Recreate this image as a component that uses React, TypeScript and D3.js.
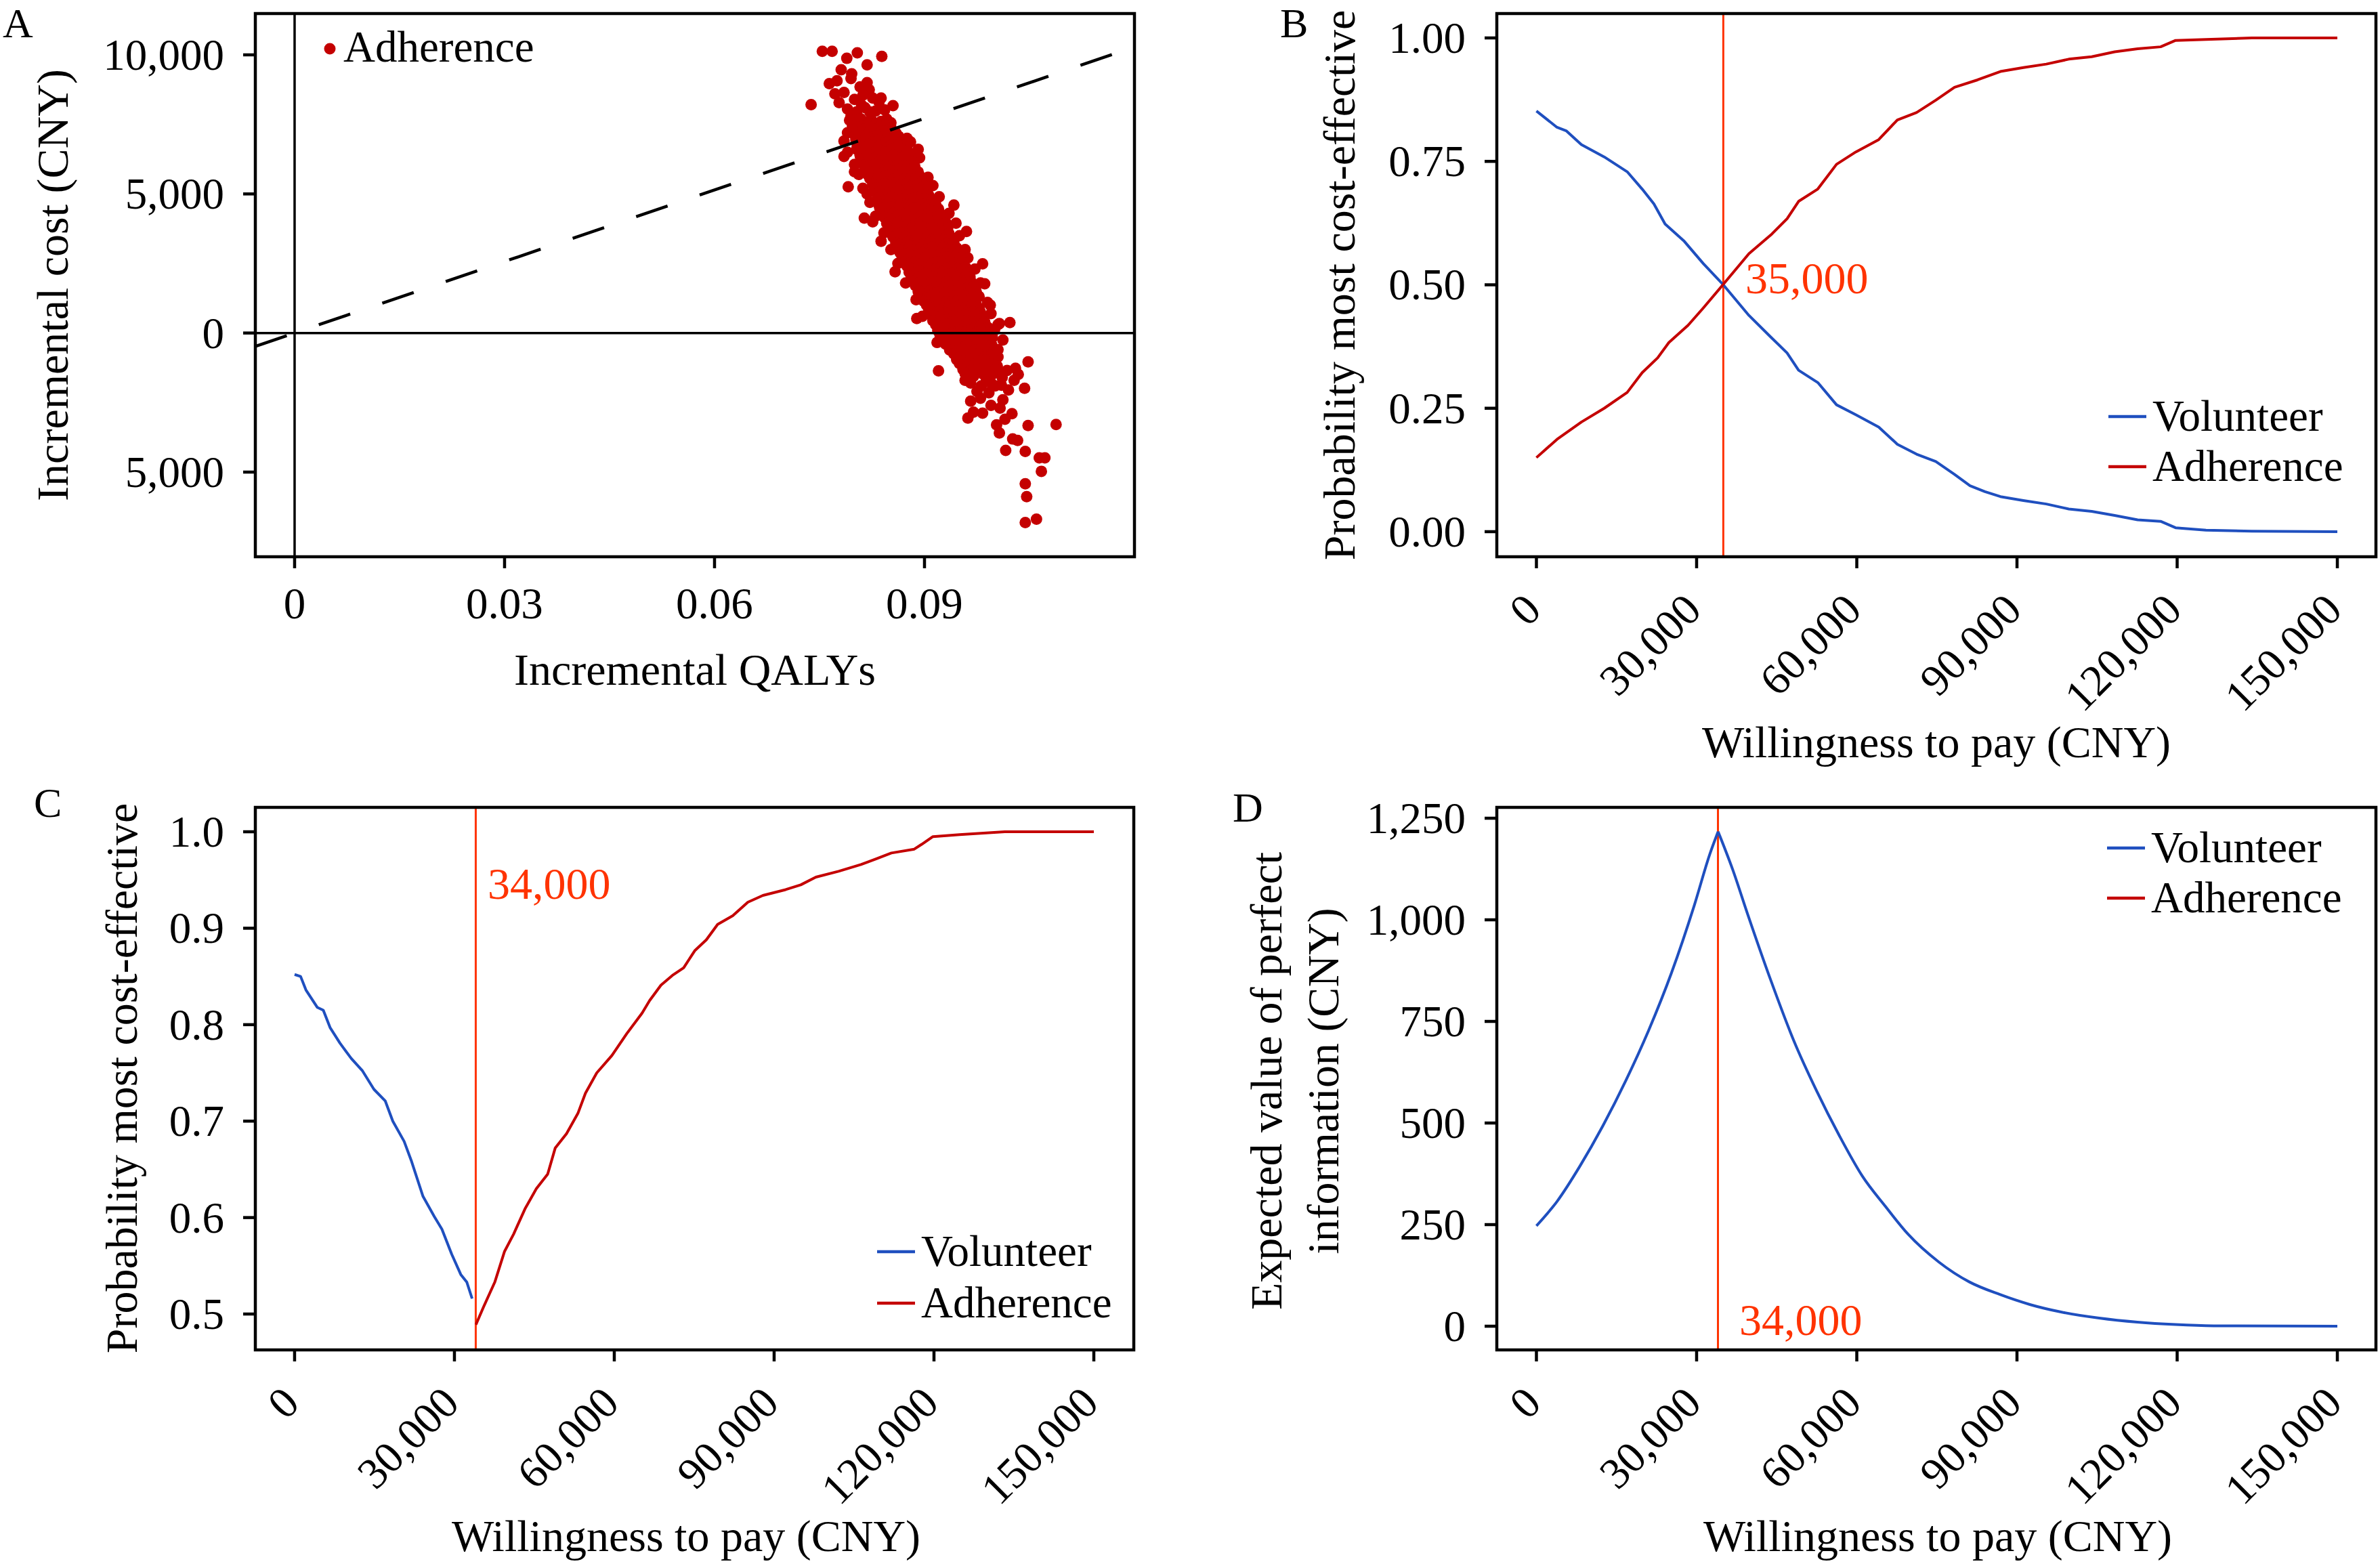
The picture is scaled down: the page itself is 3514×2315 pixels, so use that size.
import React from 'react';
import * as d3 from 'd3';

const FONT = '"Liberation Serif", "Times New Roman", Times, serif';
const RED = '#C40000';
const BLUE = '#1F4FBF';
const ORANGE = '#FF3300';

// ---------- Panel A: cost-effectiveness plane ----------
const aXTicks = [0, 0.03, 0.06, 0.09];
const aXTickLabels = ['0', '0.03', '0.06', '0.09'];
const aYTicks = [10000, 5000, 0, -5000];
const aYTickLabels = ['10,000', '5,000', '0', '5,000'];
const wtpThreshold = 85698;
const psaPoints: [number, number][] = [
  // sparse upper points
  [0.0754, 10125], [0.0768, 10125], [0.0804, 10071], [0.0839, 9946], [0.0789, 9875], [0.0818, 9642],
  [0.0781, 9463], [0.0796, 9320], [0.0764, 8962], [0.0775, 9070], [0.0821, 8748], [0.0835, 8300],
  [0.0855, 8175], [0.0738, 8211], [0.0778, 8283], [0.0790, 8050], [0.0803, 7950], [0.0815, 8100],
  [0.0830, 7980], [0.0843, 8020], [0.0800, 8400], [0.0812, 8550], [0.0826, 8450], [0.0785, 8650],
  [0.0808, 8850], [0.0795, 9150], [0.0818, 9000], [0.0772, 8600], [0.0790, 7200], [0.0785, 6900],
  [0.0795, 7800], [0.0810, 8200], [0.0822, 7950], [0.0838, 8450], [0.0880, 6870], [0.0891, 6600],
  [0.0800, 6060], [0.0806, 5700], [0.0791, 5259], [0.0814, 4132], [0.0942, 4597], [0.0960, 3649],
  [0.0945, 3950], [0.0983, 2487], [0.0986, 1771], [0.0889, 519], [0.1022, 376], [0.1007, 340],
  [0.0918, -340], [0.0920, -1360],
  // ragged edges of the core
  [0.0790, 6500], [0.0785, 6350], [0.0800, 5800], [0.0812, 5200], [0.0818, 5000], [0.0822, 4700],
  [0.0830, 4200], [0.0826, 4000], [0.0842, 3600], [0.0838, 3300], [0.0852, 3000], [0.0862, 2500],
  [0.0858, 2200], [0.0873, 1800], [0.0888, 1200], [0.0897, 600],
  [0.0875, 7000], [0.0893, 6300], [0.0905, 5600], [0.0912, 5300], [0.0921, 4900], [0.0935, 4300],
  [0.0930, 4000], [0.0950, 3500], [0.0958, 3000], [0.0962, 2700], [0.0972, 2300], [0.0980, 1800],
  [0.0994, 1000], [0.1005, 300],
  // dense core
  [0.0793, 7650], [0.0801, 7540], [0.0809, 7700], [0.0816, 7580], [0.0824, 7660], [0.0831, 7520], [0.0838, 7610], [0.0846, 7690], [0.0852, 7560],
  [0.0797, 7440], [0.0805, 7400], [0.0813, 7450], [0.0820, 7390], [0.0828, 7430], [0.0836, 7410], [0.0844, 7460], [0.0852, 7380],
  [0.0797, 7300], [0.0806, 7180], [0.0813, 7330], [0.0821, 7220], [0.0829, 7290], [0.0836, 7170], [0.0843, 7260], [0.0851, 7310], [0.0859, 7200],
  [0.0801, 7090], [0.0809, 7050], [0.0817, 7110], [0.0825, 7040], [0.0833, 7080], [0.0840, 7060], [0.0848, 7100], [0.0856, 7030], [0.0863, 7070],
  [0.0802, 6950], [0.0811, 6840], [0.0819, 6980], [0.0827, 6870], [0.0835, 6930], [0.0842, 6820], [0.0850, 6910], [0.0858, 6960], [0.0866, 6850],
  [0.0804, 6740], [0.0812, 6700], [0.0820, 6760], [0.0828, 6690], [0.0836, 6730], [0.0844, 6710], [0.0852, 6750], [0.0860, 6680], [0.0868, 6720], [0.0875, 6700],
  [0.0803, 6600], [0.0812, 6500], [0.0820, 6620], [0.0828, 6480], [0.0836, 6570], [0.0844, 6510], [0.0852, 6600], [0.0860, 6530], [0.0868, 6590], [0.0878, 6490],
  [0.0808, 6390], [0.0816, 6350], [0.0824, 6410], [0.0832, 6340], [0.0840, 6380], [0.0848, 6360], [0.0856, 6400], [0.0864, 6330], [0.0872, 6370], [0.0880, 6350],
  [0.0809, 6250], [0.0818, 6150], [0.0826, 6270], [0.0834, 6130], [0.0842, 6220], [0.0850, 6160], [0.0858, 6240], [0.0866, 6180], [0.0874, 6230], [0.0884, 6140],
  [0.0813, 6040], [0.0821, 6000], [0.0829, 6060], [0.0837, 5990], [0.0845, 6030], [0.0853, 6010], [0.0861, 6050], [0.0869, 5980], [0.0877, 6020], [0.0886, 6000],
  [0.0816, 5900], [0.0825, 5800], [0.0833, 5920], [0.0841, 5780], [0.0849, 5870], [0.0857, 5810], [0.0865, 5890], [0.0873, 5830], [0.0881, 5880], [0.0891, 5790],
  [0.0819, 5690], [0.0827, 5650], [0.0835, 5710], [0.0843, 5640], [0.0851, 5680], [0.0859, 5660], [0.0867, 5700], [0.0875, 5630], [0.0883, 5670], [0.0893, 5650],
  [0.0822, 5550], [0.0831, 5450], [0.0839, 5570], [0.0847, 5430], [0.0855, 5520], [0.0863, 5460], [0.0871, 5540], [0.0879, 5480], [0.0887, 5530], [0.0897, 5440],
  [0.0826, 5340], [0.0834, 5300], [0.0842, 5360], [0.0850, 5290], [0.0858, 5330], [0.0866, 5310], [0.0874, 5350], [0.0882, 5280], [0.0890, 5320], [0.0900, 5300],
  [0.0829, 5200], [0.0838, 5100], [0.0846, 5220], [0.0854, 5080], [0.0862, 5170], [0.0870, 5110], [0.0878, 5190], [0.0886, 5130], [0.0894, 5180], [0.0903, 5090],
  [0.0832, 4990], [0.0840, 4950], [0.0848, 5010], [0.0856, 4940], [0.0864, 4980], [0.0872, 4960], [0.0880, 5000], [0.0888, 4930], [0.0896, 4970], [0.0906, 4950],
  [0.0835, 4850], [0.0844, 4750], [0.0852, 4870], [0.0860, 4730], [0.0868, 4820], [0.0876, 4760], [0.0884, 4840], [0.0892, 4780], [0.0900, 4830], [0.0910, 4740],
  [0.0834, 4640], [0.0842, 4600], [0.0850, 4660], [0.0858, 4590], [0.0866, 4630], [0.0874, 4610], [0.0882, 4650], [0.0890, 4580], [0.0898, 4620], [0.0906, 4600], [0.0916, 4630],
  [0.0836, 4500], [0.0845, 4400], [0.0853, 4520], [0.0861, 4380], [0.0869, 4470], [0.0877, 4410], [0.0885, 4490], [0.0893, 4430], [0.0901, 4480], [0.0909, 4390], [0.0920, 4460],
  [0.0840, 4290], [0.0848, 4250], [0.0856, 4310], [0.0864, 4240], [0.0872, 4280], [0.0880, 4260], [0.0888, 4300], [0.0896, 4230], [0.0904, 4270], [0.0912, 4250], [0.0923, 4280],
  [0.0843, 4150], [0.0852, 4050], [0.0860, 4170], [0.0868, 4030], [0.0876, 4120], [0.0884, 4060], [0.0892, 4140], [0.0900, 4080], [0.0908, 4130], [0.0916, 4040], [0.0927, 4110],
  [0.0846, 3940], [0.0854, 3900], [0.0862, 3960], [0.0870, 3890], [0.0878, 3930], [0.0886, 3910], [0.0894, 3950], [0.0902, 3880], [0.0910, 3920], [0.0918, 3900], [0.0929, 3930],
  [0.0849, 3800], [0.0858, 3700], [0.0866, 3820], [0.0874, 3680], [0.0882, 3770], [0.0890, 3710], [0.0898, 3790], [0.0906, 3730], [0.0914, 3780], [0.0922, 3690], [0.0933, 3760],
  [0.0852, 3590], [0.0860, 3550], [0.0868, 3610], [0.0876, 3540], [0.0884, 3580], [0.0892, 3560], [0.0900, 3600], [0.0908, 3530], [0.0916, 3570], [0.0924, 3550], [0.0935, 3580],
  [0.0855, 3450], [0.0864, 3350], [0.0872, 3470], [0.0880, 3330], [0.0888, 3420], [0.0896, 3360], [0.0904, 3440], [0.0912, 3380], [0.0920, 3430], [0.0928, 3340], [0.0939, 3410],
  [0.0859, 3240], [0.0867, 3200], [0.0875, 3260], [0.0883, 3190], [0.0891, 3230], [0.0899, 3210], [0.0907, 3250], [0.0915, 3180], [0.0923, 3220], [0.0931, 3200], [0.0942, 3230],
  [0.0862, 3100], [0.0871, 3000], [0.0879, 3120], [0.0887, 2980], [0.0895, 3070], [0.0903, 3010], [0.0911, 3090], [0.0919, 3030], [0.0927, 3080], [0.0935, 2990], [0.0946, 3060],
  [0.0865, 2890], [0.0873, 2850], [0.0881, 2910], [0.0889, 2840], [0.0897, 2880], [0.0905, 2860], [0.0913, 2900], [0.0921, 2830], [0.0929, 2870], [0.0937, 2850], [0.0948, 2880],
  [0.0868, 2750], [0.0877, 2650], [0.0885, 2770], [0.0893, 2630], [0.0901, 2720], [0.0909, 2660], [0.0917, 2740], [0.0925, 2680], [0.0933, 2730], [0.0941, 2640], [0.0952, 2710],
  [0.0871, 2540], [0.0879, 2500], [0.0887, 2560], [0.0895, 2490], [0.0903, 2530], [0.0911, 2510], [0.0919, 2550], [0.0927, 2480], [0.0935, 2520], [0.0943, 2500], [0.0954, 2530],
  [0.0875, 2400], [0.0884, 2300], [0.0892, 2420], [0.0900, 2280], [0.0908, 2370], [0.0916, 2310], [0.0924, 2390], [0.0932, 2330], [0.0940, 2380], [0.0948, 2290], [0.0959, 2360],
  [0.0878, 2190], [0.0886, 2150], [0.0894, 2210], [0.0902, 2140], [0.0910, 2180], [0.0918, 2160], [0.0926, 2200], [0.0934, 2130], [0.0942, 2170], [0.0950, 2150], [0.0961, 2180],
  [0.0881, 2050], [0.0890, 1950], [0.0898, 2070], [0.0906, 1930], [0.0914, 2020], [0.0922, 1960], [0.0930, 2040], [0.0938, 1980], [0.0946, 2030], [0.0954, 1940], [0.0965, 2010],
  [0.0884, 1840], [0.0892, 1800], [0.0900, 1860], [0.0908, 1790], [0.0916, 1830], [0.0924, 1810], [0.0932, 1850], [0.0940, 1780], [0.0948, 1820], [0.0956, 1800], [0.0967, 1830],
  [0.0887, 1700], [0.0896, 1600], [0.0904, 1720], [0.0912, 1580], [0.0920, 1670], [0.0928, 1610], [0.0936, 1690], [0.0944, 1630], [0.0952, 1680], [0.0960, 1590], [0.0971, 1660],
  [0.0891, 1490], [0.0899, 1450], [0.0907, 1510], [0.0915, 1440], [0.0923, 1480], [0.0931, 1460], [0.0939, 1500], [0.0947, 1430], [0.0955, 1470], [0.0963, 1450], [0.0974, 1480],
  [0.0894, 1350], [0.0903, 1250], [0.0911, 1370], [0.0919, 1230], [0.0927, 1320], [0.0935, 1260], [0.0943, 1340], [0.0951, 1280], [0.0959, 1330], [0.0967, 1240], [0.0978, 1310],
  [0.0899, 1140], [0.0907, 1100], [0.0915, 1160], [0.0923, 1090], [0.0931, 1130], [0.0939, 1110], [0.0947, 1150], [0.0955, 1080], [0.0963, 1120], [0.0973, 1100],
  [0.0903, 1000], [0.0912, 900], [0.0920, 1020], [0.0928, 880], [0.0936, 970], [0.0944, 910], [0.0952, 990], [0.0960, 930], [0.0968, 980], [0.0978, 890],
  [0.0906, 790], [0.0914, 750], [0.0922, 810], [0.0930, 740], [0.0938, 780], [0.0946, 760], [0.0954, 800], [0.0962, 730], [0.0970, 770], [0.0980, 750],
  [0.0909, 650], [0.0918, 550], [0.0926, 670], [0.0934, 530], [0.0942, 620], [0.0950, 560], [0.0958, 640], [0.0966, 580], [0.0974, 630], [0.0984, 540],
  [0.0912, 440], [0.0920, 400], [0.0928, 460], [0.0936, 390], [0.0944, 430], [0.0952, 410], [0.0960, 450], [0.0968, 380], [0.0976, 420], [0.0986, 400],
  [0.0916, 300], [0.0925, 200], [0.0933, 320], [0.0941, 180], [0.0949, 270], [0.0957, 210], [0.0965, 290], [0.0973, 230], [0.0981, 280], [0.0991, 190],
  [0.0919, 90], [0.0927, 50], [0.0935, 110], [0.0943, 40], [0.0951, 80], [0.0959, 60], [0.0967, 100], [0.0975, 30], [0.0983, 70], [0.0993, 50],
  [0.0922, -50], [0.0931, -150], [0.0939, -30], [0.0947, -170], [0.0955, -80], [0.0963, -140], [0.0971, -60], [0.0979, -120], [0.0987, -70], [0.0997, -160],
  [0.0926, -260], [0.0934, -300], [0.0942, -240], [0.0950, -310], [0.0958, -270], [0.0966, -290], [0.0974, -250], [0.0982, -320], [0.0990, -280],
  [0.0930, -400], [0.0939, -500], [0.0947, -380], [0.0955, -520], [0.0963, -430], [0.0971, -490], [0.0979, -410], [0.0987, -470], [0.0996, -420],
  [0.0936, -610], [0.0945, -650], [0.0954, -590], [0.0963, -660], [0.0972, -620], [0.0981, -640], [0.0990, -600], [0.0999, -670],
  [0.0942, -750], [0.0951, -850], [0.0960, -780], [0.0969, -870], [0.0978, -760], [0.0987, -840], [0.0996, -790], [0.1005, -860],
  [0.0946, -960], [0.0956, -1000], [0.0966, -940], [0.0977, -1010], [0.0988, -970], [0.0998, -990],
  [0.0950, -1100], [0.0961, -1200], [0.0972, -1130], [0.0983, -1220], [0.0994, -1110], [0.1004, -1190],
  [0.0955, -1310], [0.0967, -1350], [0.0979, -1290], [0.0990, -1360], [0.1001, -1320],
  [0.0958, -1450], [0.0970, -1560], [0.0984, -1480], [0.0995, -1540], [0.1008, -1470],
  [0.0966, -1800], [0.0981, -1900], [0.0996, -1830], [0.1010, -1880],
  // lower tail
  [0.1005, -600], [0.1012, -250], [0.1000, 100], [0.0995, 700], [0.0990, 1100],
  [0.0992, -2150], [0.1001, -1900], [0.1012, -2400], [0.0995, -2600], [0.1020, -2050], [0.0988, -1750],
  [0.1015, -3100], [0.1003, -3300], [0.1025, -2900], [0.0975, -2100], [0.0958, -1700], [0.1011, -1600],
  [0.1028, -1700], [0.1018, -1350], [0.0966, -2450],
  [0.1048, -1038], [0.1030, -1270], [0.1034, -1485], [0.1043, -1986], [0.0962, -3059], [0.0970, -2844],
  [0.0983, -2880], [0.0980, -2343], [0.1008, -2701], [0.1007, -3596], [0.1016, -4222], [0.1026, -3810],
  [0.1033, -3864], [0.1048, -3327], [0.1088, -3292], [0.1044, -4258], [0.1064, -4490], [0.1072, -4490],
  [0.1067, -4973], [0.1044, -5420], [0.1046, -5885], [0.1044, -6816], [0.1060, -6690],
];

// ---------- shared WTP axis ----------
const wtpTicks = [0, 30000, 60000, 90000, 120000, 150000];
const wtpTickLabels = ['0', '30,000', '60,000', '90,000', '120,000', '150,000'];

// ---------- Panel B: CEAC ----------
const bYTicks = [0, 0.25, 0.5, 0.75, 1];
const bYTickLabels = ['0.00', '0.25', '0.50', '0.75', '1.00'];
const ceacVolWtp = [0, 3850, 5570, 8420, 12700, 17000, 19800, 22000, 24100, 27700, 31250, 35000, 39800, 44100, 46950, 49100, 52700, 56200, 59800, 64100, 67600, 71200, 74800, 78300, 81200, 84000, 86900, 91200, 95500, 99700, 104000, 108300, 112600, 116900, 119700, 125400, 134000, 150000];
const ceacVolunteer = [0.852, 0.819, 0.812, 0.784, 0.759, 0.729, 0.694, 0.664, 0.623, 0.588, 0.543, 0.500, 0.438, 0.392, 0.362, 0.327, 0.302, 0.257, 0.237, 0.212, 0.177, 0.157, 0.142, 0.116, 0.093, 0.081, 0.071, 0.063, 0.056, 0.046, 0.041, 0.033, 0.024, 0.021, 0.008, 0.003, 0.001, 0.000];
const ceacAdhWtp = [0, 3850, 8420, 12700, 17000, 19800, 22700, 24800, 28400, 31250, 35000, 39800, 44100, 46950, 49100, 52700, 56200, 59800, 64100, 67600, 71200, 74800, 78300, 82600, 86900, 91200, 95500, 99700, 104000, 108300, 112600, 116900, 119700, 125400, 134000, 150000];
const ceacAdherence = [0.150, 0.187, 0.222, 0.250, 0.282, 0.322, 0.352, 0.383, 0.418, 0.453, 0.501, 0.563, 0.603, 0.634, 0.669, 0.694, 0.744, 0.769, 0.794, 0.834, 0.849, 0.874, 0.900, 0.915, 0.932, 0.940, 0.947, 0.957, 0.962, 0.972, 0.978, 0.982, 0.995, 0.997, 1.000, 1.000];
const bThreshold = 35000;
const bThresholdLabel = '35,000';

// ---------- Panel C: CEAF ----------
const cYTicks = [0.5, 0.6, 0.7, 0.8, 0.9, 1.0];
const cYTickLabels = ['0.5', '0.6', '0.7', '0.8', '0.9', '1.0'];
const ceafVolWtp = [0, 1130, 2130, 4250, 5390, 6660, 8500, 10630, 12760, 14890, 17010, 18430, 20560, 21970, 24100, 26230, 27650, 29490, 31190, 32330, 33320];
const ceafVolunteer = [0.852, 0.850, 0.836, 0.818, 0.815, 0.797, 0.781, 0.765, 0.752, 0.733, 0.721, 0.700, 0.679, 0.658, 0.622, 0.601, 0.588, 0.562, 0.541, 0.533, 0.516];
const ceafAdhWtp = [34030, 35440, 37570, 39410, 41120, 43240, 45370, 47500, 48910, 51040, 53170, 54590, 56710, 59550, 62380, 65220, 66630, 68760, 70890, 73020, 75150, 77280, 79400, 82230, 85070, 87900, 92160, 95000, 97830, 102100, 106300, 109200, 112000, 116300, 117700, 119800, 124800, 133300, 150000];
const ceafAdherence = [0.489, 0.507, 0.533, 0.565, 0.583, 0.609, 0.630, 0.645, 0.672, 0.687, 0.708, 0.729, 0.750, 0.768, 0.791, 0.812, 0.825, 0.841, 0.851, 0.859, 0.877, 0.888, 0.904, 0.913, 0.927, 0.934, 0.940, 0.945, 0.953, 0.959, 0.966, 0.972, 0.978, 0.982, 0.987, 0.995, 0.997, 1.000, 1.000];
const cThreshold = 34000;
const cThresholdLabel = '34,000';

// ---------- Panel D: EVPI ----------
const dYTicks = [0, 250, 500, 750, 1000, 1250];
const dYTickLabels = ['0', '250', '500', '750', '1,000', '1,250'];
const evpiWtp = [0, 3860, 8150, 12440, 16730, 21020, 25310, 29600, 32460, 34030, 36750, 39610, 43900, 48190, 52480, 56770, 61060, 65350, 69640, 75360, 81080, 86800, 92520, 98240, 105390, 112540, 119690, 126840, 150000];
const evpiValues = [247, 307, 394, 493, 604, 728, 870, 1037, 1161, 1217, 1124, 1012, 851, 703, 579, 468, 369, 295, 226, 158, 109, 78, 53, 35, 20, 10, 4, 1, 0];
const dThreshold = 34000;
const dThresholdLabel = '34,000';

const FS = 65;

type Scale = d3.ScaleLinear<number, number>;

function Frame({ x, y }: { x: Scale; y: Scale }) {
  const [x0, x1] = x.range();
  const [y1, y0] = y.range();
  return <rect x={x0} y={y0} width={x1 - x0} height={y1 - y0} fill="none" stroke="#000" strokeWidth={4.5} />;
}

function LeftAxis({ x, y, ticks, labels }: { x: Scale; y: Scale; ticks: number[]; labels: string[] }) {
  const x0 = x.range()[0];
  return (
    <g>
      {ticks.map((t, i) => (
        <g key={i}>
          <line x1={x0 - 18} x2={x0} y1={y(t)} y2={y(t)} stroke="#000" strokeWidth={4.5} />
          <text x={x0 - 46} y={y(t) + 22} textAnchor="end" fontFamily={FONT} fontSize={FS}>{labels[i]}</text>
        </g>
      ))}
    </g>
  );
}

function BottomAxisRot({ x, y, ticks, labels }: { x: Scale; y: Scale; ticks: number[]; labels: string[] }) {
  const yb = y.range()[0];
  return (
    <g>
      {ticks.map((t, i) => (
        <g key={i}>
          <line x1={x(t)} x2={x(t)} y1={yb} y2={yb + 17} stroke="#000" strokeWidth={4.5} />
          <text transform={`translate(${x(t) + 10},${yb + 82}) rotate(-45)`} textAnchor="end" fontFamily={FONT} fontSize={FS}>{labels[i]}</text>
        </g>
      ))}
    </g>
  );
}

function Legend({ x0, y0, gap, items }: { x0: number; y0: number; gap: number; items: { label: string; color: string }[] }) {
  return (
    <g>
      {items.map((it, i) => (
        <g key={i}>
          <line x1={x0} x2={x0 + 56} y1={y0 + i * gap} y2={y0 + i * gap} stroke={it.color} strokeWidth={4.5} />
          <text x={x0 + 65} y={y0 + i * gap + 21} fontFamily={FONT} fontSize={FS}>{it.label}</text>
        </g>
      ))}
    </g>
  );
}

function mkLine(x: Scale, y: Scale, xs: number[], ys: number[], curve: d3.CurveFactory = d3.curveLinear) {
  const pts = xs.map((v, i) => [v, ys[i]] as [number, number]);
  return d3.line<[number, number]>().x((d) => x(d[0])).y((d) => y(d[1])).curve(curve)(pts) || '';
}

export default function App() {
  // Panel A scales
  const aX = d3.scaleLinear().domain([-0.00561, 0.12]).range([377, 1675]);
  const aY = d3.scaleLinear().domain([-8044, 11485]).range([822, 20]);
  const [aqMin, aqMax] = aX.domain();

  // Panel B scales
  const bX = d3.scaleLinear().domain([-7418, 157228]).range([2210, 3508]);
  const bY = d3.scaleLinear().domain([-0.0508, 1.0494]).range([822, 20]);

  // Panel C
  const cX = d3.scaleLinear().domain([-7366, 157500]).range([377, 1674]);
  const cY = d3.scaleLinear().domain([0.4628, 1.0253]).range([1993, 1192]);

  // Panel D
  const dX = d3.scaleLinear().domain([-7418, 157228]).range([2210, 3508]);
  const dY = d3.scaleLinear().domain([-58.3, 1276.7]).range([1993, 1192]);

  const peakIdx = evpiValues.indexOf(Math.max(...evpiValues));
  const evpiLeft = mkLine(dX, dY, evpiWtp.slice(0, peakIdx + 1), evpiValues.slice(0, peakIdx + 1), d3.curveMonotoneX);
  const evpiRight = mkLine(dX, dY, evpiWtp.slice(peakIdx), evpiValues.slice(peakIdx), d3.curveMonotoneX);

  return (
    <svg width={3514} height={2315} viewBox="0 0 3514 2315" style={{ position: 'absolute', left: 0, top: 0, background: '#fff' }}>
      <rect x={0} y={0} width={3514} height={2315} fill="#fff" />

      {/* ================= Panel A ================= */}
      <g>
        {psaPoints.map((p, i) => (
          <circle key={i} cx={aX(p[0])} cy={aY(p[1])} r={8.5} fill={RED} />
        ))}
        <line x1={aX(aqMin)} x2={aX(aqMax)} y1={aY(0)} y2={aY(0)} stroke="#000" strokeWidth={3.5} />
        <line x1={aX(0)} x2={aX(0)} y1={aY.range()[0]} y2={aY.range()[1]} stroke="#000" strokeWidth={3.5} />
        <line x1={aX(aqMin)} y1={aY(aqMin * wtpThreshold)} x2={aX(aqMax)} y2={aY(aqMax * wtpThreshold)}
          stroke="#000" strokeWidth={4.5} strokeDasharray="49 50" />
        <Frame x={aX} y={aY} />
        <LeftAxis x={aX} y={aY} ticks={aYTicks} labels={aYTickLabels} />
        {aXTicks.map((t, i) => (
          <g key={i}>
            <line x1={aX(t)} x2={aX(t)} y1={822} y2={839} stroke="#000" strokeWidth={4.5} />
            <text x={aX(t)} y={913} textAnchor="middle" fontFamily={FONT} fontSize={FS}>{aXTickLabels[i]}</text>
          </g>
        ))}
        <circle cx={487} cy={72} r={8.5} fill={RED} />
        <text x={507} y={91} fontFamily={FONT} fontSize={FS}>Adherence</text>
        <text x={1026} y={1011} textAnchor="middle" fontFamily={FONT} fontSize={66}>Incremental QALYs</text>
        <text transform={`translate(100,421) rotate(-90)`} textAnchor="middle" fontFamily={FONT} fontSize={66}>Incremental cost (CNY)</text>
        <text x={4} y={55} fontFamily={FONT} fontSize={62}>A</text>
      </g>

      {/* ================= Panel B ================= */}
      <g>
        <line x1={bX(bThreshold)} x2={bX(bThreshold)} y1={20} y2={822} stroke={ORANGE} strokeWidth={3} />
        <path d={mkLine(bX, bY, ceacVolWtp, ceacVolunteer)} fill="none" stroke={BLUE} strokeWidth={4} strokeLinejoin="round" />
        <path d={mkLine(bX, bY, ceacAdhWtp, ceacAdherence)} fill="none" stroke={RED} strokeWidth={4} strokeLinejoin="round" />
        <text x={2577} y={433} fontFamily={FONT} fontSize={66} fill={ORANGE}>{bThresholdLabel}</text>
        <Frame x={bX} y={bY} />
        <LeftAxis x={bX} y={bY} ticks={bYTicks} labels={bYTickLabels} />
        <BottomAxisRot x={bX} y={bY} ticks={wtpTicks} labels={wtpTickLabels} />
        <Legend x0={3113} y0={615} gap={74} items={[{ label: 'Volunteer', color: BLUE }, { label: 'Adherence', color: RED }]} />
        <text x={2859} y={1118} textAnchor="middle" fontFamily={FONT} fontSize={66}>Willingness to pay (CNY)</text>
        <text transform={`translate(2000,421) rotate(-90)`} textAnchor="middle" fontFamily={FONT} fontSize={66}>Probability most cost-effective</text>
        <text x={1890} y={55} fontFamily={FONT} fontSize={62}>B</text>
      </g>

      {/* ================= Panel C ================= */}
      <g>
        <line x1={cX(cThreshold)} x2={cX(cThreshold)} y1={1192} y2={1993} stroke={ORANGE} strokeWidth={3} />
        <path d={mkLine(cX, cY, ceafVolWtp, ceafVolunteer)} fill="none" stroke={BLUE} strokeWidth={4} strokeLinejoin="round" />
        <path d={mkLine(cX, cY, ceafAdhWtp, ceafAdherence)} fill="none" stroke={RED} strokeWidth={4} strokeLinejoin="round" />
        <text x={720} y={1327} fontFamily={FONT} fontSize={66} fill={ORANGE}>{cThresholdLabel}</text>
        <Frame x={cX} y={cY} />
        <LeftAxis x={cX} y={cY} ticks={cYTicks} labels={cYTickLabels} />
        <BottomAxisRot x={cX} y={cY} ticks={wtpTicks} labels={wtpTickLabels} />
        <Legend x0={1295} y0={1848} gap={76} items={[{ label: 'Volunteer', color: BLUE }, { label: 'Adherence', color: RED }]} />
        <text x={1013} y={2290} textAnchor="middle" fontFamily={FONT} fontSize={66}>Willingness to pay (CNY)</text>
        <text transform={`translate(202,1592) rotate(-90)`} textAnchor="middle" fontFamily={FONT} fontSize={66}>Probability most cost-effective</text>
        <text x={50} y={1206} fontFamily={FONT} fontSize={62}>C</text>
      </g>

      {/* ================= Panel D ================= */}
      <g>
        <line x1={dX(dThreshold)} x2={dX(dThreshold)} y1={1192} y2={1993} stroke={ORANGE} strokeWidth={3} />
        <path d={evpiLeft} fill="none" stroke={BLUE} strokeWidth={4} strokeLinejoin="round" />
        <path d={evpiRight} fill="none" stroke={BLUE} strokeWidth={4} strokeLinejoin="round" />
        <text x={2568} y={1971} fontFamily={FONT} fontSize={66} fill={ORANGE}>{dThresholdLabel}</text>
        <Frame x={dX} y={dY} />
        <LeftAxis x={dX} y={dY} ticks={dYTicks} labels={dYTickLabels} />
        <BottomAxisRot x={dX} y={dY} ticks={wtpTicks} labels={wtpTickLabels} />
        <Legend x0={3111} y0={1252} gap={74} items={[{ label: 'Volunteer', color: BLUE }, { label: 'Adherence', color: RED }]} />
        <text x={2861} y={2290} textAnchor="middle" fontFamily={FONT} fontSize={66}>Willingness to pay (CNY)</text>
        <text transform={`translate(1892,1596) rotate(-90)`} textAnchor="middle" fontFamily={FONT} fontSize={66}>Expected value of perfect</text>
        <text transform={`translate(1976,1596) rotate(-90)`} textAnchor="middle" fontFamily={FONT} fontSize={66}>information (CNY)</text>
        <text x={1820} y={1213} fontFamily={FONT} fontSize={62}>D</text>
      </g>
    </svg>
  );
}
